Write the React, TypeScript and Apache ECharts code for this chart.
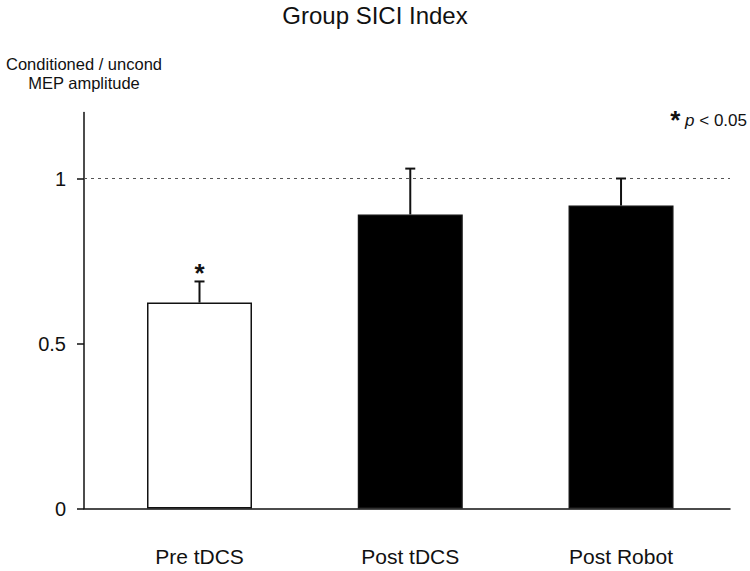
import React, { useEffect, useRef } from "react";
import * as echarts from "echarts";

const categories = ["Pre tDCS", "Post tDCS", "Post Robot"];
const means = [0.624, 0.891, 0.918];
const errorTops = [0.688, 1.03, 1.0];
const significant = [true, false, false];
const barFills = ["#ffffff", "#000000", "#000000"];
const yTicks = [0, 0.5, 1];
const referenceLine = 1;

const FONT = "'Liberation Sans', Arial, sans-serif";

export default function App() {
  const ref = useRef<HTMLDivElement>(null);
  useEffect(() => {
    if (!ref.current) return;
    const chart = echarts.init(ref.current, null, { renderer: "svg" });
    const idx = categories.map((_, i) => i);
    chart.setOption({
      animation: false,
      backgroundColor: "#ffffff",
      textStyle: { fontFamily: FONT, color: "#111" },
      title: {
        text: "Group SICI Index",
        left: "center",
        top: -2,
        textStyle: { fontFamily: FONT, fontSize: 24, fontWeight: "normal", color: "#111" },
      },
      grid: { left: 84, right: 20, top: 112.5, bottom: 62.5, containLabel: false },
      xAxis: {
        type: "value",
        min: -0.548,
        max: 2.517,
        splitLine: { show: false },
        axisLine: { show: true, onZero: false, lineStyle: { color: "#111", width: 1.5 } },
        axisTick: { show: false },
        axisLabel: {
          customValues: idx,
          formatter: (v: number) => categories[Math.round(v)] ?? "",
          fontFamily: FONT,
          fontSize: 21,
          color: "#111",
          margin: 37,
        },
      },
      yAxis: {
        type: "value",
        min: 0,
        max: 1.2,
        interval: 0.5,
        name: "Conditioned / uncond\nMEP amplitude",
        nameLocation: "end",
        nameGap: 20,
        nameTextStyle: { fontFamily: FONT, fontSize: 16.5, color: "#111", align: "center", lineHeight: 19 },
        splitLine: { show: false },
        axisLine: { show: true, onZero: false, lineStyle: { color: "#111", width: 1.5 } },
        axisTick: { show: true, customValues: yTicks, length: 7, lineStyle: { color: "#111", width: 1.5 } },
        axisLabel: {
          customValues: yTicks,
          formatter: (v: number) => String(v),
          fontFamily: FONT,
          fontSize: 20,
          color: "#111",
          margin: 18,
        },
      },
      series: [
        {
          type: "bar",
          barWidth: 105,
          data: means.map((m, i) => ({
            value: [i, m],
            itemStyle: { color: barFills[i], borderColor: "#111", borderWidth: 1.5 },
          })),
          markLine: {
            silent: true,
            symbol: "none",
            label: { show: false },
            lineStyle: { color: "#555", type: [3, 4], width: 1 },
            data: [{ yAxis: referenceLine }],
          },
        },
        {
          type: "custom",
          data: means.map((m, i) => [i, m, errorTops[i], significant[i] ? 1 : 0]),
          renderItem: (params: any, api: any) => {
            const x = api.value(0);
            const top = api.coord([x, api.value(1)]);
            const err = api.coord([x, api.value(2)]);
            const children: any[] = [
              { type: "line", shape: { x1: top[0], y1: top[1], x2: err[0], y2: err[1] }, style: { stroke: "#111", lineWidth: 2 } },
              { type: "line", shape: { x1: err[0] - 5, y1: err[1], x2: err[0] + 5, y2: err[1] }, style: { stroke: "#111", lineWidth: 2 } },
            ];
            if (api.value(3)) {
              children.push({
                type: "text",
                style: {
                  text: "*",
                  x: err[0],
                  y: err[1] - 8,
                  align: "center",
                  verticalAlign: "middle",
                  font: `bold 26px ${FONT}`,
                  fill: "#111",
                },
              });
            }
            return { type: "group", children };
          },
          z: 5,
        },
      ],
      graphic: [
        {
          type: "text",
          right: 3,
          top: 107,
          style: {
            text: "{s|*} {p|p} < 0.05",
            font: `17px ${FONT}`,
            fill: "#111",
            rich: {
              s: { font: `bold 26px ${FONT}`, fill: "#111", verticalAlign: "top" },
              p: { font: `italic 17px ${FONT}`, fill: "#111" },
            },
          },
        },
      ],
    });
    return () => chart.dispose();
  }, []);
  return <div ref={ref} style={{ position: "fixed", left: 0, top: 0, width: 750, height: 571 }} />;
}
